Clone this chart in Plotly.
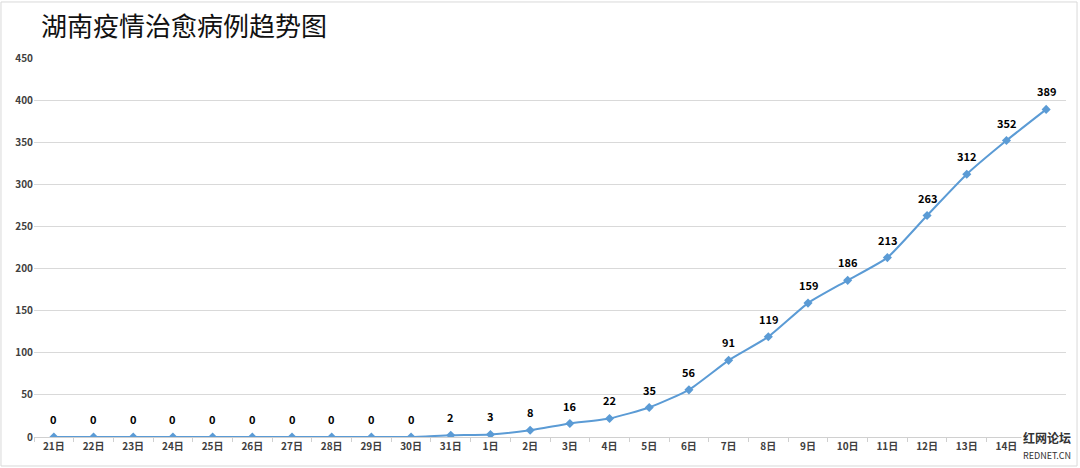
import plotly.graph_objects as go

title = "湖南疫情治愈病例趋势图"
days = ["21日", "22日", "23日", "24日", "25日", "26日", "27日", "28日", "29日", "30日", "31日",
        "1日", "2日", "3日", "4日", "5日", "6日", "7日", "8日", "9日", "10日", "11日", "12日",
        "13日", "14日", "15日"]
cured = [0, 0, 0, 0, 0, 0, 0, 0, 0, 0, 2, 3, 8, 16, 22, 35, 56, 91, 119, 159, 186, 213, 263,
         312, 352, 389]
y_ticks = [0, 50, 100, 150, 200, 250, 300, 350, 400, 450]
# the last day's axis label is covered by the site watermark in the reference
shown_ticks = days[:-1]

FONT = "Noto Sans CJK SC"

fig = go.Figure()
fig.add_trace(go.Scatter(
    x=days, y=cured,
    mode="lines+markers",
    line=dict(color="#5B9BD5", width=2, shape="spline", smoothing=0.5),
    marker=dict(symbol="diamond", size=7, color="#5B9BD5"),
    showlegend=False,
))

labels = [dict(x=d, y=v, xref="x", yref="y", text=str(v), showarrow=False,
               yshift=18, font=dict(family=FONT, size=11, color="#000000", weight="bold"))
          for d, v in zip(days, cured)]

fig.update_layout(
    width=1080, height=468,
    margin=dict(l=34, r=14, t=58, b=31),
    paper_bgcolor="white", plot_bgcolor="white",
    font=dict(family=FONT, color="#404040"),
    title=dict(text=title, x=0.038, xanchor="left", y=0.942, yanchor="middle",
               font=dict(family=FONT, size=26, color="#111111")),
    xaxis=dict(
        type="category", range=[-0.5, len(days) - 0.5], automargin=False,
        tickvals=shown_ticks,
        showgrid=False, showline=True, linecolor="#D0D0D0", linewidth=1,
        ticks="outside", tickson="boundaries", ticklen=4, tickcolor="#D0D0D0",
        tickfont=dict(family=FONT, size=10, color="#404040", weight="bold"),
        fixedrange=True,
    ),
    yaxis=dict(
        range=[0, 450], tickvals=y_ticks, automargin=False,
        showgrid=True, gridcolor="#D9D9D9", gridwidth=1,
        zeroline=False, showline=False, ticks="",
        tickfont=dict(family=FONT, size=10, color="#404040", weight="bold"),
        fixedrange=True,
    ),
    shapes=[dict(type="rect", xref="paper", yref="paper",
                 x0=-0.032, x1=1.0107, y0=-0.0765, y1=1.1478,
                 line=dict(color="#D9D9D9", width=1), fillcolor="rgba(0,0,0,0)", layer="below")],
    annotations=labels + [dict(
        xref="paper", yref="paper", x=1.007, y=-0.07, xanchor="right", yanchor="bottom",
        text="<b>红网论坛</b><br><span style='font-size:9px'>REDNET.CN</span>",
        showarrow=False, align="left", bgcolor="white",
        font=dict(family=FONT, size=12, color="#333333"),
    )],
)

fig.write_html("out.html", config={"displayModeBar": False},
               post_script="document.body.style.margin='0';document.body.style.overflow='hidden';")
